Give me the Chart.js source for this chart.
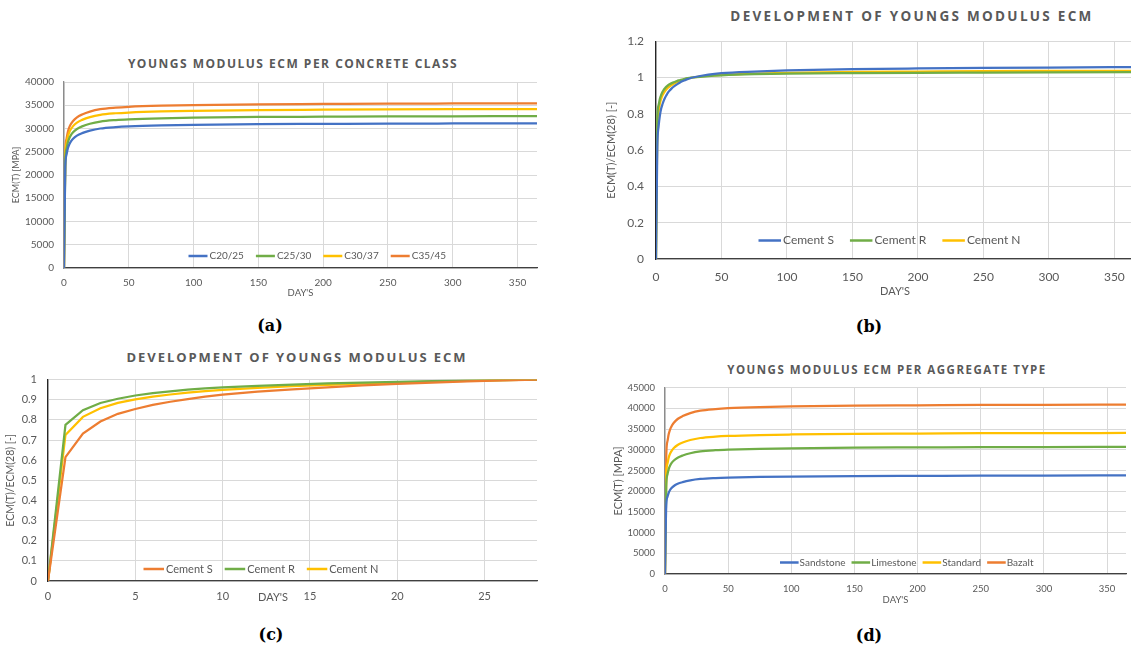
<!DOCTYPE html>
<html>
<head>
<meta charset="utf-8">
<script src="https://cdn.jsdelivr.net/npm/chart.js@4.4.1/dist/chart.umd.min.js"></script>
<style>
  html, body { margin: 0; padding: 0; background: #fff; }
  body { width: 1131px; height: 650px; position: relative; overflow: hidden; }
  canvas { position: absolute; }
  .title { position: absolute; transform: translate(-50%, -50%); font-family: 'Open Sans', sans-serif;
           font-weight: bold; color: #595959; white-space: nowrap; }
  .cap { position: absolute; transform: translate(-50%, -50%); font-family: 'DejaVu Serif', serif;
         font-weight: bold; font-size: 16px; color: #000; }
</style>
</head>
<body>
<div class="title" style="left:293px;top:63px;font-size:12px;letter-spacing:1.5px">YOUNGS MODULUS ECM PER CONCRETE CLASS</div>
<div class="title" style="left:912px;top:16px;font-size:13.5px;letter-spacing:2.3px">DEVELOPMENT OF YOUNGS MODULUS ECM</div>
<div class="title" style="left:297px;top:357px;font-size:13px;letter-spacing:1.95px">DEVELOPMENT OF YOUNGS MODULUS ECM</div>
<div class="title" style="left:887px;top:369px;font-size:11.5px;letter-spacing:1.5px">YOUNGS MODULUS ECM PER AGGREGATE TYPE</div>

<canvas id="chartA" width="543" height="233" style="left:0;top:66px"></canvas>
<canvas id="chartB" width="544" height="276" style="left:596px;top:22px"></canvas>
<canvas id="chartC" width="543" height="249" style="left:0;top:362px"></canvas>
<canvas id="chartD" width="525" height="235" style="left:607px;top:372px"></canvas>

<div class="cap" style="left:270px;top:325px">(a)</div>
<div class="cap" style="left:869px;top:326px">(b)</div>
<div class="cap" style="left:271px;top:634px">(c)</div>
<div class="cap" style="left:869px;top:635px">(d)</div>

<script>
// age in days for the concrete class / aggregate curves
var longDays = [0, 1, 2, 3, 4, 5, 7, 10, 14, 20, 28, 40, 50, 75, 100, 150, 200, 250, 300, 365];

// Ecm(t) [MPa] per concrete class
var classLabels = ['C20/25', 'C25/30', 'C30/37', 'C35/45'];
var ecmC2025 = [0, 21750, 24450, 25740, 26520, 27060, 27780, 28470, 29010, 29550, 30000, 30300, 30450, 30660, 30780, 30930, 30990, 31050, 31080, 31110];
var ecmC2530 = [0, 22840, 25670, 27030, 27850, 28410, 29170, 29890, 30460, 31030, 31500, 31820, 31970, 32190, 32320, 32480, 32540, 32600, 32630, 32670];
var ecmC3037 = [0, 23890, 26850, 28270, 29130, 29720, 30510, 31270, 31860, 32460, 32950, 33280, 33440, 33680, 33810, 33970, 34040, 34100, 34140, 34170];
var ecmC3545 = [0, 24760, 27830, 29300, 30190, 30800, 31620, 32410, 33020, 33640, 34150, 34490, 34660, 34900, 35040, 35210, 35280, 35350, 35380, 35410];

// Ecm(t) [MPa] per aggregate type
var aggLabels = ['Sandstone', 'Limestone', 'Standard', 'Bazalt'];
var ecmSandstone = [0, 16640, 18700, 19690, 20290, 20700, 21250, 21780, 22190, 22610, 22950, 23180, 23290, 23450, 23550, 23660, 23710, 23750, 23780, 23800];
var ecmLimestone = [0, 21460, 24120, 25400, 26170, 26700, 27410, 28090, 28620, 29160, 29600, 29900, 30040, 30250, 30370, 30520, 30580, 30640, 30670, 30700];
var ecmStandard = [0, 23820, 26770, 28190, 29040, 29630, 30420, 31170, 31770, 32360, 32850, 33180, 33340, 33570, 33700, 33870, 33930, 34000, 34030, 34060];
var ecmBazalt = [0, 28600, 32150, 33850, 34870, 35580, 36530, 37440, 38150, 38860, 39450, 39840, 40040, 40320, 40480, 40670, 40750, 40830, 40870, 40910];

// Ecm(t)/Ecm(28) per cement type
var ratioDays = [0, 1, 2, 3, 4, 5, 6, 7, 8, 9, 10, 12, 14, 16, 18, 20, 22, 24, 26, 28, 40, 50, 75, 100, 150, 200, 250, 300, 365];
var cementLabels = ['Cement S', 'Cement R', 'Cement N'];
var cementS = [0, 0.615, 0.732, 0.792, 0.83, 0.854, 0.874, 0.89, 0.903, 0.915, 0.925, 0.94, 0.952, 0.962, 0.971, 0.979, 0.985, 0.991, 0.996, 1.0, 1.016, 1.024, 1.033, 1.039, 1.046, 1.05, 1.053, 1.055, 1.057];
var cementR = [0, 0.775, 0.848, 0.884, 0.905, 0.921, 0.933, 0.942, 0.95, 0.956, 0.961, 0.969, 0.975, 0.981, 0.985, 0.989, 0.993, 0.996, 0.998, 1.0, 1.008, 1.012, 1.018, 1.021, 1.024, 1.026, 1.027, 1.028, 1.029];
var cementN = [0, 0.725, 0.815, 0.858, 0.884, 0.902, 0.915, 0.926, 0.935, 0.943, 0.949, 0.959, 0.967, 0.974, 0.98, 0.985, 0.99, 0.994, 0.997, 1.0, 1.01, 1.015, 1.022, 1.026, 1.031, 1.033, 1.035, 1.036, 1.037];

var BLUE = '#4472C4', ORANGE = '#ED7D31', GREEN = '#70AD47', YELLOW = '#FFC000';
var TEXT = '#595959';

Chart.defaults.font.family = 'Lato, sans-serif';
Chart.defaults.color = TEXT;

function points(xs, ys) {
  return ys.map(function (y, i) { return { x: xs[i], y: y }; });
}

function series(label, xs, ys, color, smooth) {
  return {
    label: label,
    data: points(xs, ys),
    borderColor: color,
    backgroundColor: color,
    borderWidth: 2.25,
    pointRadius: 0,
    fill: false,
    cubicInterpolationMode: smooth ? 'monotone' : 'default',
    tension: 0
  };
}

// legend drawn inside the plot, along its bottom edge
function insideLegend(o) {
  return {
    id: 'insideLegend',
    afterDraw: function (chart) {
      var ctx = chart.ctx, area = chart.chartArea;
      var x = area.left + o.dx, y = area.bottom + o.dy;
      ctx.save();
      ctx.font = o.size + 'px Lato, sans-serif';
      ctx.textBaseline = 'middle';
      ctx.fillStyle = TEXT;
      chart.data.datasets.forEach(function (ds) {
        ctx.strokeStyle = ds.borderColor;
        ctx.lineWidth = 2.5;
        ctx.beginPath();
        ctx.moveTo(x, y);
        ctx.lineTo(x + o.line, y);
        ctx.stroke();
        x += o.line + o.gap;
        ctx.fillText(ds.label, x, y);
        x += ctx.measureText(ds.label).width + o.space;
      });
      if (o.note) {
        ctx.textAlign = 'center';
        ctx.font = o.note.size + 'px Lato, sans-serif';
        ctx.fillText(o.note.text, area.left + o.note.dx, area.bottom + o.note.dy);
      }
      ctx.restore();
    }
  };
}

// ticks on whole steps only (no extra tick at the axis maximum)
function stepTicks(step) {
  return function (s) {
    var list = [];
    for (var v = 0; v <= s.max + 1e-9; v += step) list.push({ value: +v.toFixed(4) });
    s.ticks = list;
  };
}

function scales(o) {
  return {
    x: {
      type: 'linear', min: 0, max: o.xMax,
      afterBuildTicks: stepTicks(o.xStep),
      afterFit: function (s) { s.height = o.xh; },
      ticks: { padding: o.xPad, font: { size: o.xFont }, maxRotation: 0, autoSkip: false },
      grid: { color: '#d9d9d9', drawTicks: false },
      border: { color: '#404040', width: 1.3 },
      title: o.xTitle ? { display: true, text: "DAY'S", font: { size: o.xTitle }, padding: { top: 0, bottom: o.xTitlePad } } : { display: false }
    },
    y: {
      min: 0, max: o.yMax,
      afterBuildTicks: stepTicks(o.yStep),
      afterFit: function (s) { s.width = o.yw; },
      ticks: {
        padding: o.yPad, font: { size: o.yFont },
        callback: function (v) { return String(+v.toFixed(2)); }
      },
      grid: { color: '#d9d9d9', drawTicks: false },
      border: { color: o.yBorder, width: 1.3 },
      title: { display: true, text: o.yTitle, font: { size: o.yTitleSize }, padding: { top: o.yTitlePad, bottom: 0 } }
    }
  };
}

function baseOptions(sc) {
  return {
    responsive: false,
    animation: false,
    layout: { padding: { left: 0, top: 10, right: 6, bottom: 0 } },
    plugins: { legend: { display: false }, tooltip: { enabled: false }, title: { display: false } },
    scales: sc
  };
}

// (a) concrete classes
new Chart(document.getElementById('chartA'), {
  type: 'line',
  data: {
    datasets: [
      series(classLabels[0], longDays, ecmC2025, BLUE, true),
      series(classLabels[1], longDays, ecmC2530, GREEN, true),
      series(classLabels[2], longDays, ecmC3037, YELLOW, true),
      series(classLabels[3], longDays, ecmC3545, ORANGE, true)
    ]
  },
  options: baseOptions(scales({
    xMax: 365, xStep: 50, xh: 31, xPad: 9, xFont: 10, xTitle: 9.5, xTitlePad: 0,
    yMax: 40000, yStep: 5000, yw: 64, yPad: 10, yFont: 10, yBorder: '#8c8c8c',
    yTitle: 'ECM(T) [MPA]', yTitleSize: 9, yTitlePad: 10.5
  })),
  plugins: [insideLegend({ dx: 124.5, dy: -12, size: 10, line: 19, gap: 2, space: 12 })]
});

// (b) cement types, one year
new Chart(document.getElementById('chartB'), {
  type: 'line',
  data: {
    datasets: [
      series(cementLabels[0], ratioDays, cementS, BLUE, true),
      series(cementLabels[1], ratioDays, cementR, GREEN, true),
      series(cementLabels[2], ratioDays, cementN, YELLOW, true)
    ]
  },
  options: baseOptions(scales({
    xMax: 365, xStep: 50, xh: 39, xPad: 10.5, xFont: 12, xTitle: 11, xTitlePad: 0,
    yMax: 1.2, yStep: 0.2, yw: 60, yPad: 12, yFont: 12, yBorder: '#262626',
    yTitle: 'ECM(T)/ECM(28) [-]', yTitleSize: 11, yTitlePad: 9
  })),
  plugins: [insideLegend({ dx: 102.5, dy: -18.5, size: 12, line: 22.5, gap: 2, space: 16 })]
});

// (c) cement types, first 28 days
var early = ratioDays.filter(function (d) { return d <= 28; }).length;
new Chart(document.getElementById('chartC'), {
  type: 'line',
  data: {
    datasets: [
      series(cementLabels[0], ratioDays, cementS.slice(0, early), ORANGE, false),
      series(cementLabels[1], ratioDays, cementR.slice(0, early), GREEN, false),
      series(cementLabels[2], ratioDays, cementN.slice(0, early), YELLOW, false)
    ]
  },
  options: baseOptions(scales({
    xMax: 28, xStep: 5, xh: 30, xPad: 9, xFont: 11, xTitle: 0,
    yMax: 1, yStep: 0.1, yw: 48, yPad: 11, yFont: 11, yBorder: '#262626',
    yTitle: 'ECM(T)/ECM(28) [-]', yTitleSize: 10.5, yTitlePad: 4.7
  })),
  plugins: [insideLegend({ dx: 95.5, dy: -12, size: 11, line: 20.5, gap: 2, space: 12,
    note: { text: "DAY'S", size: 11, dx: 225, dy: 16 } })]
});

// (d) aggregate types
new Chart(document.getElementById('chartD'), {
  type: 'line',
  data: {
    datasets: [
      series(aggLabels[0], longDays, ecmSandstone, BLUE, true),
      series(aggLabels[1], longDays, ecmLimestone, GREEN, true),
      series(aggLabels[2], longDays, ecmStandard, YELLOW, true),
      series(aggLabels[3], longDays, ecmBazalt, ORANGE, true)
    ]
  },
  options: baseOptions(scales({
    xMax: 365, xStep: 50, xh: 33, xPad: 9.3, xFont: 9.5, xTitle: 9.5, xTitlePad: 1,
    yMax: 45000, yStep: 5000, yw: 58, yPad: 10, yFont: 9.5, yBorder: '#8c8c8c',
    yTitle: 'ECM(T) [MPA]', yTitleSize: 11, yTitlePad: 4.7
  })),
  plugins: [insideLegend({ dx: 115, dy: -11.5, size: 10, line: 18.6, gap: 1, space: 6 })]
});
</script>
</body>
</html>
